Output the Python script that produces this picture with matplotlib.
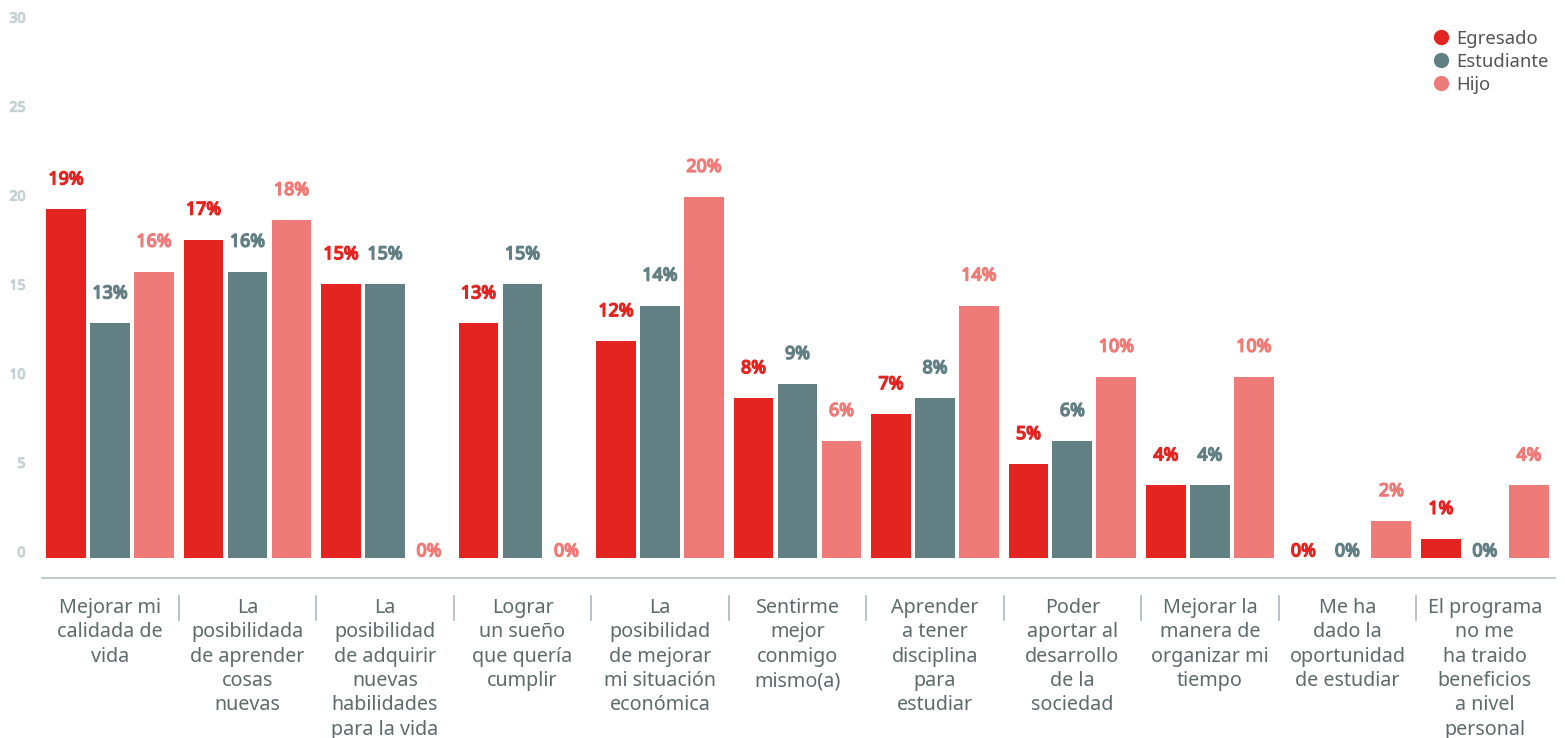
import numpy as np
import matplotlib
matplotlib.use('Agg')
import matplotlib.pyplot as plt
import matplotlib.transforms as mtransforms
import matplotlib.patheffects as pe
from matplotlib.lines import Line2D

plt.rcParams['font.family'] = ['Noto Sans', 'DejaVu Sans']

categories = [
    'Mejorar mi\ncalidada de\nvida',
    'La\nposibilidada\nde aprender\ncosas\nnuevas',
    'La\nposibilidad\nde adquirir\nnuevas\nhabilidades\npara la vida',
    'Lograr\nun sueño\nque quería\ncumplir',
    'La\nposibilidad\nde mejorar\nmi situación\neconómica',
    'Sentirme\nmejor\nconmigo\nmismo(a)',
    'Aprender\na tener\ndisciplina\npara\nestudiar',
    'Poder\naportar al\ndesarrollo\nde la\nsociedad',
    'Mejorar la\nmanera de\norganizar mi\ntiempo',
    'Me ha\ndado la\noportunidad\nde estudiar',
    'El programa\nno me\nha traido\nbeneficios\na nivel\npersonal',
]
series = ['Egresado', 'Estudiante', 'Hijo']
egresado = [19.2, 17.5, 15.0, 12.8, 11.8, 8.6, 7.7, 4.9, 3.7, 0.0, 0.7]
estudiante = [12.8, 15.7, 15.0, 15.0, 13.8, 9.4, 8.6, 6.2, 3.7, 0.0, 0.0]
hijo = [15.7, 18.6, 0.0, 0.0, 19.9, 6.2, 13.8, 9.8, 9.8, 1.7, 3.7]
egresado_lbl = [19, 17, 15, 13, 12, 8, 7, 5, 4, 0, 1]
estudiante_lbl = [13, 16, 15, 15, 14, 9, 8, 6, 4, 0, 0]
hijo_lbl = [16, 18, 0, 0, 20, 6, 14, 10, 10, 2, 4]
yticks = [0, 5, 10, 15, 20, 25, 30]

colors = ['#e32420', '#627f84', '#ee7b78']
text_gray = '#5e6b6d'
tick_gray = '#c5d1d3'

# the installed Noto Sans has no separate bold face, so thicken with a stroke
def bold(color, w=1.0):
    return [pe.withStroke(linewidth=w, foreground=color)]

W, H = 1565, 738
fig = plt.figure(figsize=(W / 100, H / 100), dpi=100)
ax = fig.add_axes([42 / W, (H - 578) / H, (1555 - 42) / W, (578 - 17) / H])

x = np.arange(len(categories))
width = 0.29
offsets = [-0.32, 0.0, 0.32]
values = [egresado, estudiante, hijo]
labels = [egresado_lbl, estudiante_lbl, hijo_lbl]
base = -0.4  # bars start slightly below the zero tick, as in the original

for k in range(3):
    heights = [v - base if v > 0 else 0 for v in values[k]]
    ax.bar(x + offsets[k], heights, width, color=colors[k], bottom=base,
           label=series[k], zorder=2)
    for i, (v, l) in enumerate(zip(values[k], labels[k])):
        dy = 30 if v > 0 else 0
        ax.annotate('%d%%' % l, (x[i] + offsets[k], v), xytext=(0, dy),
                    textcoords='offset pixels', ha='center', va='center',
                    fontsize=12.8, color=colors[k],
                    path_effects=bold(colors[k], 1.1))

ax.set_xlim(-0.495, 10.51)
ax.set_ylim(-1.5, 30)
ax.set_yticks(yticks)
ax.set_yticklabels([str(t) for t in yticks])
ax.tick_params(axis='y', length=0, pad=12, labelsize=10, labelcolor=tick_gray)
for t in ax.get_yticklabels():
    t.set_path_effects(bold(tick_gray, 0.9))
ax.set_xticks([])
for s in ['top', 'right', 'left']:
    ax.spines[s].set_visible(False)
ax.spines['bottom'].set_color('#b3c2c4')
ax.spines['bottom'].set_linewidth(1.2)

trans = mtransforms.blended_transform_factory(ax.transData, ax.transAxes)
for i, c in enumerate(categories):
    ax.annotate(c, (x[i], 0), xycoords=trans, xytext=(0, -20),
                textcoords='offset pixels', ha='center', va='top',
                fontsize=14.2, color=text_gray, linespacing=1.29)
for i in range(len(categories) - 1):
    ax.add_line(Line2D([x[i] + 0.5, x[i] + 0.5], [-18 / 561, -42 / 561],
                       transform=trans, color='#a9b8bb', lw=1.2, clip_on=False))

handles = [Line2D([], [], marker='o', ls='', ms=10, color=c) for c in colors]
ax.legend(handles, series, loc='upper left', bbox_to_anchor=(1421 / W, 0.977),
          bbox_transform=fig.transFigure, frameon=False, fontsize=13.3,
          handlelength=0.8, handletextpad=0.4, labelspacing=0.27,
          labelcolor='#555555', borderpad=0.2)

fig.savefig('out.png', dpi=100)
